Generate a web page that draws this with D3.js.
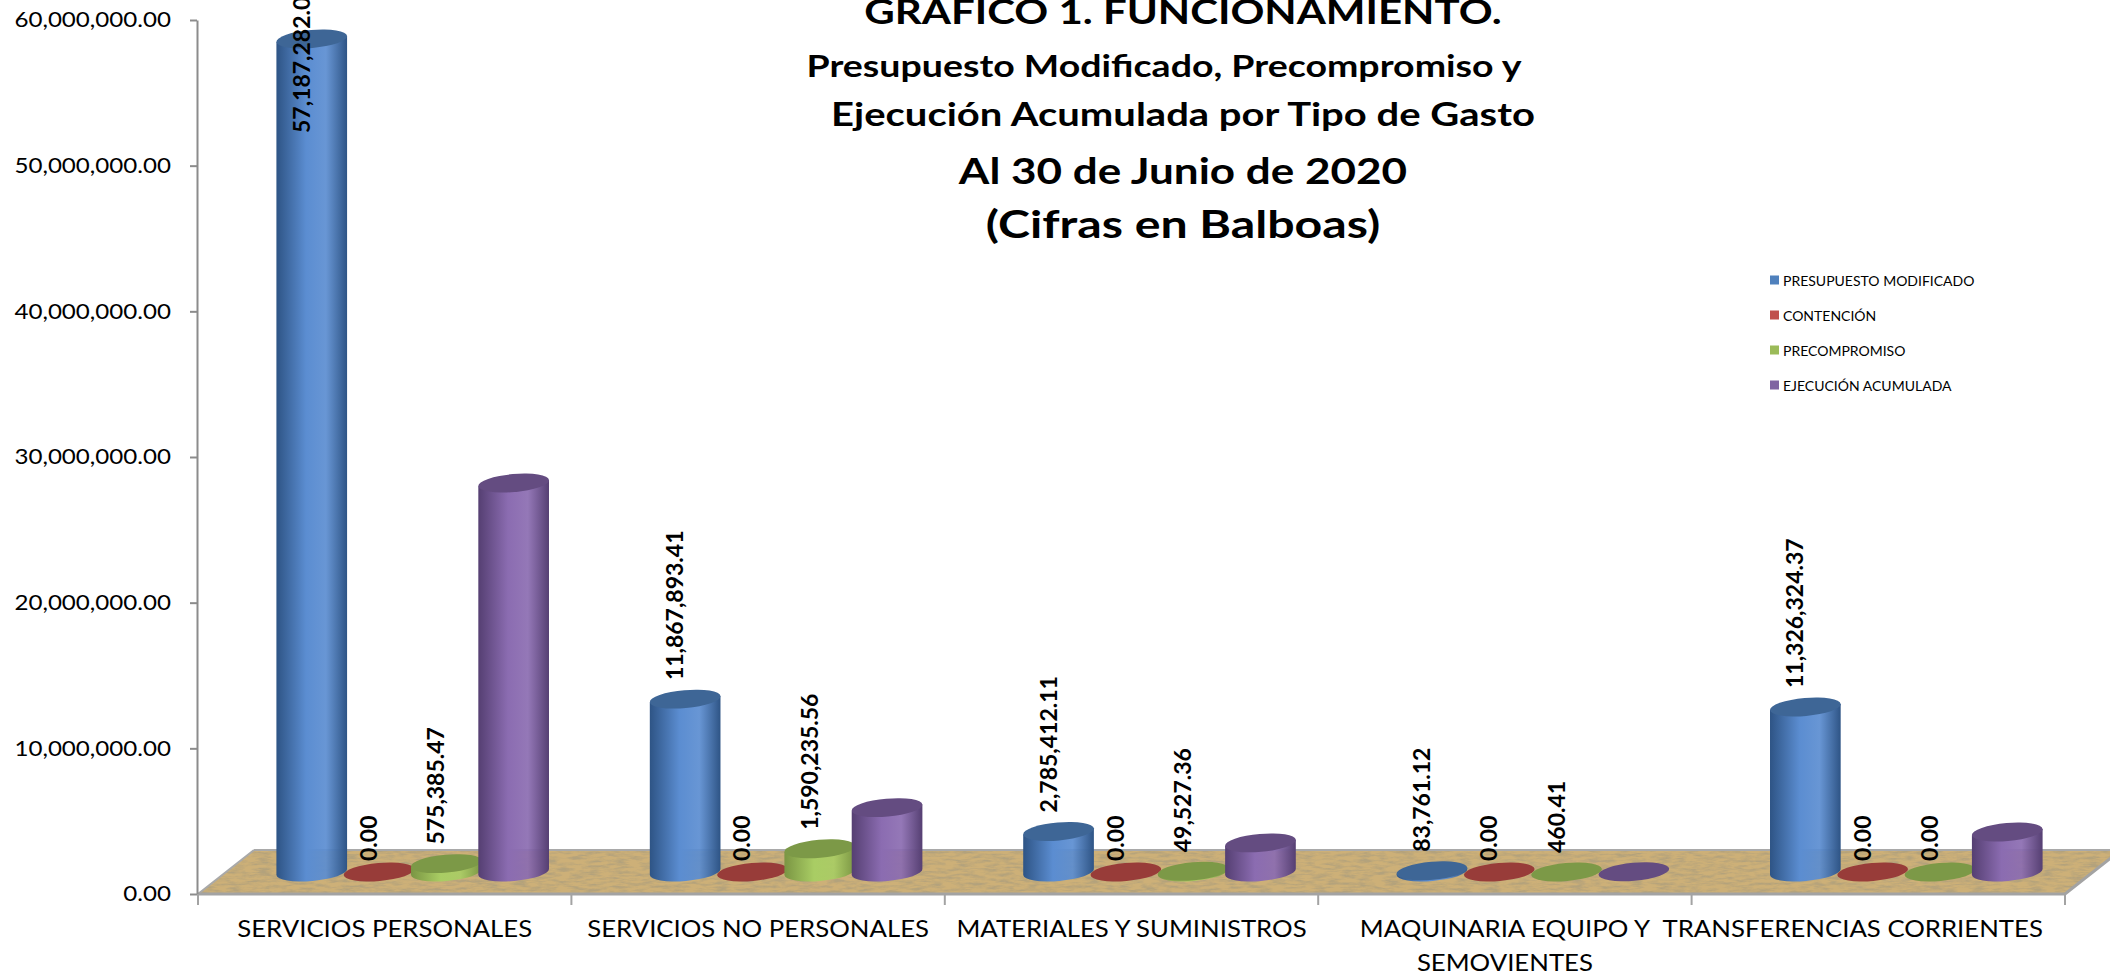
<!DOCTYPE html>
<html>
<head>
<meta charset="utf-8">
<script src="https://cdn.jsdelivr.net/npm/d3@7/dist/d3.min.js"></script>
<style>
  html, body { margin: 0; padding: 0; background: #fff; overflow: hidden; }
  svg { display: block; font-family: Lato, "Open Sans", sans-serif; }
</style>
</head>
<body>
<div class="chart"></div>
<script>
// data
const categories = [
  "SERVICIOS PERSONALES",
  "SERVICIOS NO PERSONALES",
  "MATERIALES Y SUMINISTROS",
  "MAQUINARIA EQUIPO Y SEMOVIENTES",
  "TRANSFERENCIAS CORRIENTES",
];
const categoryLines = [
  ["SERVICIOS PERSONALES"],
  ["SERVICIOS NO PERSONALES"],
  ["MATERIALES Y SUMINISTROS"],
  ["MAQUINARIA EQUIPO Y", "SEMOVIENTES"],
  ["TRANSFERENCIAS CORRIENTES"],
];
const seriesNames = ["PRESUPUESTO MODIFICADO", "CONTENCIÓN", "PRECOMPROMISO", "EJECUCIÓN ACUMULADA"];
const presupuesto = [57187282.0, 11867893.41, 2785412.11, 83761.12, 11326324.37];
const contencion = [0, 0, 0, 0, 0];
const precompromiso = [575385.47, 1590235.56, 49527.36, 460.41, 0];
// no labels in the picture: estimated from the cylinder heights
const ejecucion = [26700000, 4420000, 2000000, 15000, 2740000];
const labelled = [true, true, true, false];
const yTicks = [0, 10000000, 20000000, 30000000, 40000000, 50000000, 60000000];
const titleLines = [
  "GRAFICO 1. FUNCIONAMIENTO.",
  "Presupuesto Modificado, Precompromiso y",
  "Ejecución Acumulada por Tipo de Gasto",
  "Al 30 de Junio de 2020",
  "(Cifras en Balboas)",
];

const WIDTH = 2110;
const HEIGHT = 977;
const PLOT_LEFT = 198;
const PLOT_RIGHT = 2065;
const PLOT_TOP = 20;
const FLOOR_Y = 894;
const DEPTH_X = 56;
const DEPTH_Y = 44;
const ELLIPSE_RY = 9;
const ELLIPSE_TILT = -5;
const AXIS_STRETCH = 1.15;
const CAT_STRETCH = 1.12;
const CAT_LABEL_MARGIN = 22;

const colors = [
  { light: "#5b8dd1", dark: "#2e5485", top: "#3e6696" },
  { light: "#c4524f", dark: "#7a2c29", top: "#983c39" },
  { light: "#a9cd64", dark: "#7a9543", top: "#7c9947" },
  { light: "#8b6cb1", dark: "#553f72", top: "#644c81" },
];
const legendColors = ["#4f81bd", "#c0504d", "#9bbb59", "#8064a2"];

const seriesValues = [presupuesto, contencion, precompromiso, ejecucion];

const svg = d3.create("svg").attr("width", WIDTH).attr("height", HEIGHT);
// attach right away so text can be measured
document.querySelector(".chart").append(svg.node());
const defs = svg.append("defs");

colors.forEach((c, i) => {
  const g = defs.append("linearGradient").attr("id", `cyl${i}`).attr("x1", "0").attr("x2", "1").attr("y1", "0").attr("y2", "0");
  g.append("stop").attr("offset", "0").attr("stop-color", c.dark);
  g.append("stop").attr("offset", "0.42").attr("stop-color", c.light);
  g.append("stop").attr("offset", "0.7").attr("stop-color", c.light).attr("stop-opacity", 0.92);
  g.append("stop").attr("offset", "1").attr("stop-color", c.dark);
});

// sand/wood grain for the floor
const grain = defs.append("filter").attr("id", "grain").attr("x", 0).attr("y", 0).attr("width", 1).attr("height", 1);
grain.append("feTurbulence").attr("type", "fractalNoise").attr("baseFrequency", "0.07 0.35").attr("numOctaves", 4).attr("seed", 4).attr("result", "noise");
grain.append("feColorMatrix").attr("in", "noise").attr("type", "matrix")
  .attr("values", "0 0 0 0 0.45  0 0 0 0 0.36  0 0 0 0 0.2  2.6 0 0 0 -1.0").attr("result", "tint");
grain.append("feComposite").attr("in", "tint").attr("in2", "SourceGraphic").attr("operator", "in").attr("result", "tex");
const merge = grain.append("feMerge");
merge.append("feMergeNode").attr("in", "SourceGraphic");
merge.append("feMergeNode").attr("in", "tex");

const x = d3.scaleBand().domain(categories).range([PLOT_LEFT, PLOT_RIGHT]).paddingInner(0).paddingOuter(0);
const xInner = d3.scaleBand().domain(d3.range(seriesNames.length)).range([0, x.bandwidth()]).paddingInner(0).paddingOuter(0.774);
const y = d3.scaleLinear().domain([0, 60000000]).range([FLOOR_Y, PLOT_TOP]);

// floor
const floorPts = [
  [PLOT_LEFT, FLOOR_Y],
  [PLOT_RIGHT, FLOOR_Y],
  [PLOT_RIGHT + DEPTH_X, FLOOR_Y - DEPTH_Y],
  [PLOT_LEFT + DEPTH_X, FLOOR_Y - DEPTH_Y],
];
svg.append("polygon")
  .attr("points", floorPts.map(p => p.join(",")).join(" "))
  .attr("fill", "#cdb078")
  .attr("filter", "url(#grain)");
svg.append("path")
  .attr("d", d3.line()([floorPts[3], floorPts[2]]) + d3.line()([floorPts[0], floorPts[3]]))
  .attr("stroke", "#a9a9a9").attr("stroke-width", 2).attr("fill", "none");
svg.append("path")
  .attr("d", d3.line()([floorPts[0], floorPts[1], floorPts[2]]))
  .attr("stroke", "#a3a3a3").attr("stroke-width", 3).attr("fill", "none");

// y axis
const TICK_SIZE = 7;
const TICK_PAD = 19;
const yAxis = svg.append("g")
  .attr("transform", `translate(${PLOT_LEFT - 1},0)`)
  .call(d3.axisLeft(y).tickValues(yTicks).tickFormat(d3.format(",.2f")).tickSize(TICK_SIZE).tickPadding(TICK_PAD).tickSizeOuter(0));
yAxis.select(".domain").attr("stroke", "#8c8c8c").attr("stroke-width", 2);
yAxis.selectAll(".tick line").attr("stroke", "#8c8c8c").attr("stroke-width", 2);
yAxis.selectAll(".tick text")
  .attr("font-size", 21).attr("fill", "#000").attr("font-family", "Lato, sans-serif")
  .attr("x", -(TICK_SIZE + TICK_PAD) / AXIS_STRETCH)
  .attr("transform", `scale(${AXIS_STRETCH},1)`);

// category ticks below the floor
const boundaries = [...categories.map(c => x(c)), x.range()[1]];
svg.append("g").selectAll("line").data(boundaries).join("line")
  .attr("x1", d => d).attr("x2", d => d)
  .attr("y1", FLOOR_Y).attr("y2", FLOOR_Y + 11)
  .attr("stroke", "#a3a3a3").attr("stroke-width", 2);

// category labels, kept inside the plot's right end
const catLabels = svg.append("g").selectAll("g").data(categories).join("g");
catLabels.each(function (c, i) {
  const t = d3.select(this).selectAll("text").data(categoryLines[i]).join("text")
    .attr("text-anchor", "middle")
    .attr("font-size", 23)
    .attr("fill", "#000")
    .text(d => d);
  t.each(function (d, k) {
    const half = this.getComputedTextLength() * CAT_STRETCH / 2;
    const cx = Math.min(x(c) + x.bandwidth() / 2, PLOT_RIGHT - CAT_LABEL_MARGIN - half);
    d3.select(this).attr("transform", `translate(${cx},${937 + k * 34}) scale(${CAT_STRETCH},1)`);
  });
});

// cylinders
const tiltRad = ELLIPSE_TILT * Math.PI / 180;
const rx = xInner.bandwidth() * 0.527;
const ex = rx * Math.cos(tiltRad);
const ey = rx * Math.sin(tiltRad);

const bars = [];
categories.forEach((c, i) => {
  seriesValues.forEach((vals, s) => {
    const cx = x(c) + xInner(s) + xInner.bandwidth() / 2 + DEPTH_X / 2;
    const baseY = y(0) - DEPTH_Y / 2;
    const topY = y(vals[i]) - DEPTH_Y / 2;
    bars.push({ cat: c, s, value: vals[i], cx, baseY, topY });
  });
});

const barG = svg.append("g");
bars.forEach(b => {
  const g = barG.append("g");
  if (b.baseY - b.topY > 0.5) {
    g.append("path")
      .attr("d",
        `M${b.cx - ex},${b.topY - ey} L${b.cx - ex},${b.baseY - ey} ` +
        `A${rx},${ELLIPSE_RY} ${ELLIPSE_TILT} 0 0 ${b.cx + ex},${b.baseY + ey} ` +
        `L${b.cx + ex},${b.topY + ey} Z`)
      .attr("fill", `url(#cyl${b.s})`);
  }
  g.append("ellipse")
    .attr("transform", `translate(${b.cx},${b.topY}) rotate(${ELLIPSE_TILT})`)
    .attr("rx", rx).attr("ry", ELLIPSE_RY)
    .attr("fill", colors[b.s].top);
});

// data labels
const fmt = d3.format(",.2f");
const LABEL_GAP = 10;
const INSIDE_OFFSET = 94;
const labelG = svg.append("g");
bars.filter(b => labelled[b.s]).forEach(b => {
  const t = labelG.append("text")
    .attr("font-size", 23)
    .attr("font-weight", 700)
    .attr("fill", "#000")
    .attr("dominant-baseline", "central")
    .text(fmt(b.value));
  const len = t.node().getComputedTextLength();
  const gap = b.value > 0 ? LABEL_GAP : 2;
  let anchorY = b.topY - ELLIPSE_RY - gap;
  if (anchorY - len < PLOT_TOP) anchorY = b.topY + INSIDE_OFFSET;
  t.attr("transform", `translate(${b.cx - 11},${anchorY}) rotate(-90)`);
});

// title
const titleSizes = [35, 31, 32, 37, 38];
const titleStretch = [1.2, 1.21, 1.25, 1.19, 1.27];
const titleBaselines = [24, 77, 126, 184, 238];
const titleShift = [0, -19, 0, 0, 0];
svg.append("g").selectAll("text").data(titleLines).join("text")
  .attr("transform", (d, i) => `translate(${1183 + titleShift[i]},${titleBaselines[i]}) scale(${titleStretch[i]},1)`)
  .attr("text-anchor", "middle")
  .attr("font-weight", 700)
  .attr("font-size", (d, i) => titleSizes[i])
  .attr("fill", "#000")
  .text(d => d);

// legend
const legend = svg.append("g").attr("transform", "translate(1770,280)");
const items = legend.selectAll("g").data(seriesNames).join("g")
  .attr("transform", (d, i) => `translate(0,${i * 35})`);
items.append("rect").attr("x", 0).attr("y", -4.5).attr("width", 9).attr("height", 9)
  .attr("fill", (d, i) => legendColors[i]);
items.append("text").attr("x", 13).attr("dominant-baseline", "central")
  .attr("font-size", 14).attr("fill", "#000").text(d => d);
</script>
</body>
</html>
